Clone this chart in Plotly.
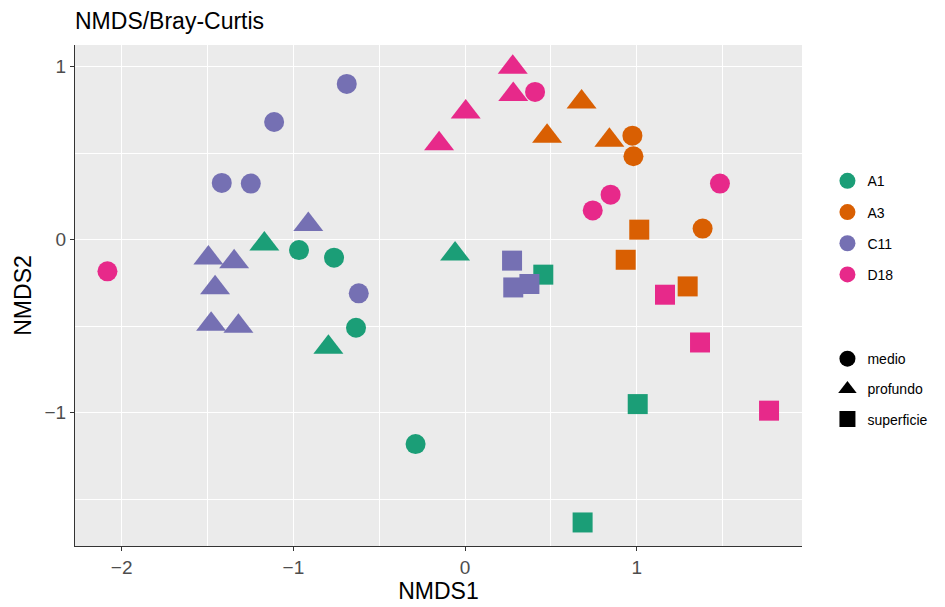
import plotly.graph_objects as go

# NMDS ordination scores (Bray-Curtis) per site, with sampling depth
sites = ["A1", "A3", "C11", "D18"]
site_colors = ["#1B9E77", "#D95F02", "#7570B3", "#E7298A"]
depths = ["medio", "profundo", "superficie"]
depth_symbols = ["circle", "triangle-up", "square"]
depth_sizes = [20, 26, 20]

a1_x = [-0.967, -0.763, -0.635, -0.288, -1.169, -0.796, -0.058, 0.456, 1.006, 0.685]
a1_y = [-0.060, -0.104, -0.509, -1.181, -0.025, -0.622, -0.083, -0.202, -0.950, -1.634]
a1_depth = ["medio"] * 4 + ["profundo"] * 3 + ["superficie"] * 3

a3_x = [0.975, 0.981, 1.384, 0.679, 0.478, 0.841, 1.015, 0.936, 1.297]
a3_y = [0.601, 0.482, 0.064, 0.795, 0.597, 0.575, 0.058, -0.116, -0.270]
a3_depth = ["medio"] * 3 + ["profundo"] * 3 + ["superficie"] * 3

c11_x = [-0.689, -1.112, -1.417, -1.248, -0.619,
         -0.913, -1.495, -1.345, -1.456, -1.479, -1.320,
         0.274, 0.281, 0.375]
c11_y = [0.900, 0.680, 0.328, 0.324, -0.310,
         0.088, -0.106, -0.128, -0.277, -0.489, -0.500,
         -0.121, -0.276, -0.256]
c11_depth = ["medio"] * 5 + ["profundo"] * 6 + ["superficie"] * 3

d18_x = [-2.083, 0.408, 0.848, 0.744, 1.485, 0.278, 0.281, 0.004, -0.151, 1.165, 1.369, 1.771]
d18_y = [-0.183, 0.854, 0.260, 0.169, 0.324, 0.997, 0.839, 0.738, 0.555, -0.318, -0.594, -0.988]
d18_depth = ["medio"] * 5 + ["profundo"] * 4 + ["superficie"] * 3

site_data = {
    "A1": (a1_x, a1_y, a1_depth),
    "A3": (a3_x, a3_y, a3_depth),
    "C11": (c11_x, c11_y, c11_depth),
    "D18": (d18_x, d18_y, d18_depth),
}

FONT = "Liberation Sans, Arial, sans-serif"
sym = dict(zip(depths, depth_symbols))
size = dict(zip(depths, depth_sizes))

fig = go.Figure()

# data points: one trace per site, symbol by depth
for site, color in zip(sites, site_colors):
    xs, ys, ds = site_data[site]
    fig.add_trace(go.Scatter(
        x=xs, y=ys, mode="markers", showlegend=False, hoverinfo="skip",
        marker=dict(color=color, opacity=1, symbol=[sym[d] for d in ds],
                    size=[size[d] for d in ds], line=dict(width=0)),
    ))

# colour legend (sites)
for site, color in zip(sites, site_colors):
    fig.add_trace(go.Scatter(
        x=[None], y=[None], mode="markers", name=site, legend="legend",
        legendgroup=site,
        marker=dict(color=color, opacity=1, symbol="circle", size=20, line=dict(width=0)),
    ))

# shape legend (depths)
for d, s in zip(depths, depth_symbols):
    fig.add_trace(go.Scatter(
        x=[None], y=[None], mode="markers", name=d, legend="legend2",
        legendgroup=d,
        marker=dict(color="black", opacity=1, symbol=s, size=20, line=dict(width=0)),
    ))

axis_common = dict(
    showgrid=True, gridcolor="white", gridwidth=1.2,
    zeroline=False, showline=True, linecolor="#333333", linewidth=1.2,
    ticks="outside", ticklen=4, tickcolor="#333333", tickwidth=1.2,
    tickfont=dict(family=FONT, size=19, color="#4D4D4D"),
    dtick=1, tick0=0, automargin=False,
    minor=dict(dtick=0.5, showgrid=True, gridcolor="white", gridwidth=0.6, ticks=""),
)

fig.update_layout(
    width=945, height=607,
    margin=dict(l=75, r=143, t=45, b=61),
    paper_bgcolor="white", plot_bgcolor="#EBEBEB",
    font=dict(family=FONT, color="black"),
    title=dict(text="NMDS/Bray-Curtis", x=75 / 945, xanchor="left",
               y=1 - 21 / 607, yanchor="middle",
               font=dict(family=FONT, size=23, color="black")),
    xaxis=dict(range=[-2.272, 1.963],
               title=dict(text="NMDS1", font=dict(family=FONT, size=23, color="black"), standoff=4),
               **axis_common),
    yaxis=dict(range=[-1.77, 1.125],
               title=dict(text="NMDS2", font=dict(family=FONT, size=23, color="black"), standoff=6),
               **axis_common),
    legend=dict(x=1.035, y=0.76, xanchor="left", yanchor="top",
                bgcolor="rgba(0,0,0,0)", itemsizing="trace", tracegroupgap=10,
                font=dict(family=FONT, size=14, color="black")),
    legend2=dict(x=1.035, y=0.405, xanchor="left", yanchor="top",
                 bgcolor="rgba(0,0,0,0)", itemsizing="trace", tracegroupgap=9,
                 font=dict(family=FONT, size=14, color="black")),
)

fig.write_html("out.html")
